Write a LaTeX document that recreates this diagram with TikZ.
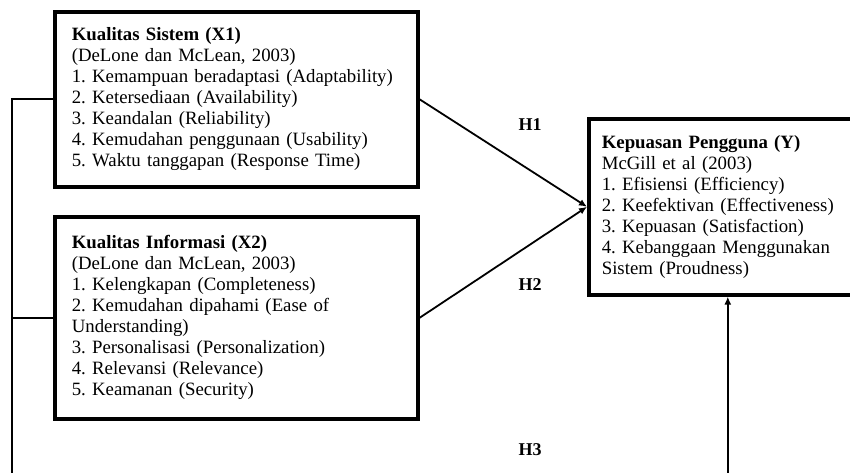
\documentclass[tikz,border=0pt]{standalone}
\usepackage{fontspec}
\setmainfont{Liberation Serif}
\usetikzlibrary{positioning,arrows.meta}
\frenchspacing

\begin{document}
\begin{tikzpicture}[x=1pt, y=-1pt, font=\fontsize{18.8}{21}\selectfont]
    \tikzstyle{varbox}=[draw, line width=3.6pt, align=left, anchor=north west, inner xsep=17pt, inner ysep=10pt]
    \tikzstyle{marrs}=[line width=1.8pt, -{Latex[length=8pt,width=7pt]}]
    \tikzstyle{hyp}=[font=\fontsize{18}{21}\selectfont\bfseries]

    \clip (0,0) rectangle (850,472);

    % variabel bebas
    \node[varbox, text width=329pt, minimum height=175pt] (x1) at (53,10) {
        \textbf{Kualitas Sistem (X1)}\\
        (DeLone dan McLean, 2003)\\
        1. Kemampuan beradaptasi (Adaptability)\\
        2. Ketersediaan (Availability)\\
        3. Keandalan (Reliability)\\
        4. Kemudahan penggunaan (Usability)\\
        5. Waktu tanggapan (Response Time)};
    \node[varbox, text width=329pt, minimum height=202pt] (x2) at (53,215) {
        \textbf{Kualitas Informasi (X2)}\\
        (DeLone dan McLean, 2003)\\
        1. Kelengkapan (Completeness)\\
        2. Kemudahan dipahami (Ease of\\
        Understanding)\\
        3. Personalisasi (Personalization)\\
        4. Relevansi (Relevance)\\
        5. Keamanan (Security)};

    % variabel terikat
    \node[varbox, inner xsep=13pt, text width=252pt, minimum height=176pt] (y) at (587,117) {
        \textbf{Kepuasan Pengguna (Y)}\\
        McGill et al (2003)\\
        1. Efisiensi (Efficiency)\\
        2. Keefektivan (Effectiveness)\\
        3. Kepuasan (Satisfaction)\\
        4. Kebanggaan Menggunakan\\
        Sistem (Proudness)};

    \coordinate (lbot) at (12,484);

    \draw[marrs] (x1.east) -- (y.west);
    \draw[marrs] (x2.east) -- (y.west);
    \draw[marrs] (x1.west) -| (lbot) -| (y.south);
    \draw[line width=1.8pt] (x2.west) -- (x2.west -| lbot);

    \node[hyp] (h1) at (530,125) {H1};
    \node[hyp] (h2) at (530,285) {H2};
    \node[hyp] (h3) at (530,450) {H3};

\end{tikzpicture}
\end{document}
